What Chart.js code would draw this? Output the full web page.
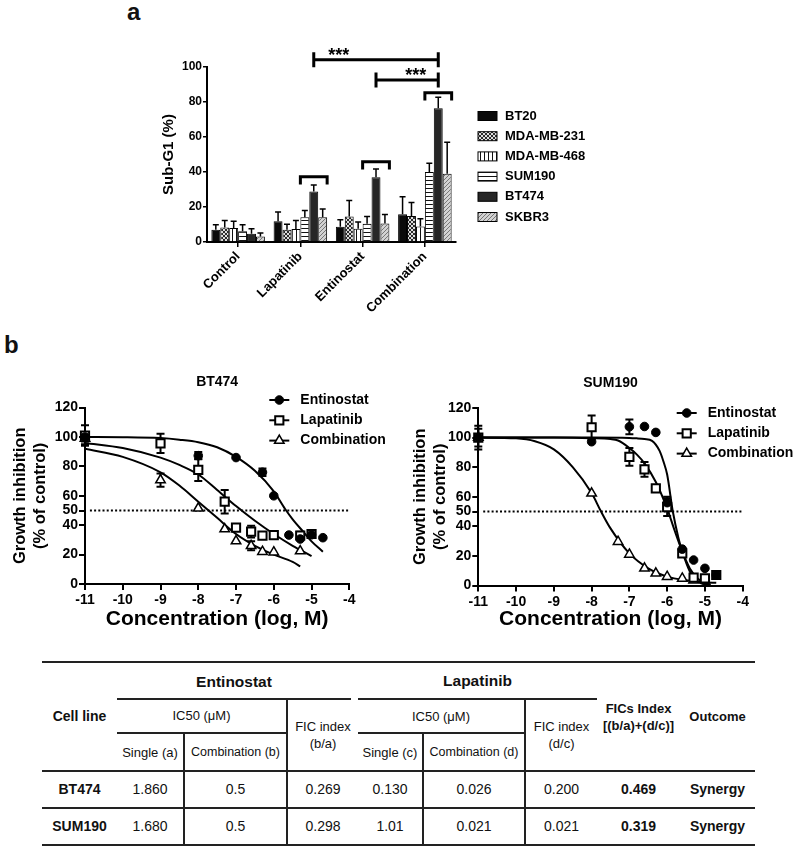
<!DOCTYPE html>
<html lang="en">
<head>
<meta charset="UTF-8">
<title>Sub-G1 and growth inhibition</title>
<script src="https://cdn.jsdelivr.net/npm/chart.js@4"></script>
<style>
  body { margin: 0; background: #fff; font-family: "Liberation Sans", Arial, sans-serif; color: #111; }
  #page { position: relative; width: 800px; height: 852px; overflow: hidden; }
  canvas { position: absolute; }
  .plabel { position: absolute; font-weight: bold; font-size: 24px; line-height: 24px; }
  #tbl { position: absolute; left: 42px; top: 661px; width: 713px; border-collapse: collapse; table-layout: fixed; font-size: 13px; }
  #tbl td { padding: 0; text-align: center; vertical-align: middle; line-height: 17px; white-space: nowrap; }
  #tbl tr.top td { border-top: 2px solid #222; }
  #tbl td.grp { position: relative; padding-right: 7px; }
  #tbl td.grp::after { content: ""; position: absolute; left: 0; right: 7px; bottom: -1px; border-bottom: 2px solid #222; }
  #tbl td.ul { border-bottom: 2px solid #222; }
  #tbl td.vl { border-left: 2px solid #222; }
  #tbl tr.data td { border-top: 2px solid #222; font-size: 14px; }
  #tbl tr.last td { border-bottom: 2px solid #222; }
  #tbl .b { font-weight: bold; }
  #tbl .h { font-size: 15.5px; }
  #tbl .s { font-size: 12.5px; }
</style>
</head>
<body>
<div id="page">
  <div class="plabel" style="left:127px;top:0">a</div>
  <div class="plabel" style="left:4px;top:333px">b</div>
  <canvas id="barChart" width="800" height="330" style="left:0;top:0"></canvas>
  <canvas id="bt474Chart" width="400" height="300" style="left:0;top:340px"></canvas>
  <canvas id="sum190Chart" width="400" height="300" style="left:400px;top:340px"></canvas>
  <table id="tbl"></table>
</div>
<script>
// ---- panel a: Sub-G1 bars
const treatments = ["Control", "Lapatinib", "Entinostat", "Combination"];
const cellLines = ["BT20", "MDA-MB-231", "MDA-MB-468", "SUM190", "BT474", "SKBR3"];
const bt20 = [7, 11.8, 8.7, 15.9];
const mda231 = [8.3, 7, 14.6, 14.8];
const mda468 = [8, 7.4, 7.6, 8.9];
const sum190 = [6.1, 14.2, 10.4, 40];
const bt474 = [4.7, 28.8, 37, 76.4];
const skbr3 = [3.2, 14.2, 10.6, 39];
const bt20Err = [2.9, 5.3, 4, 9.9];
const mda231Err = [4, 3.2, 9.1, 7.8];
const mda468Err = [3.8, 4.9, 3.8, 4.4];
const sum190Err = [3.8, 3.8, 4.2, 5];
const bt474Err = [2.9, 3.8, 4.7, 6.3];
const skbr3Err = [1.9, 4.6, 5.1, 18];
// brackets over SUM190..SKBR3 in each group (top value), significance lines between BT474 bars
const bracketTop = [null, 37.3, 45.9, 85.3];
const sigFrom = [1, 2];
const sigTo = [3, 3];
const sigLevel = [104.2, 92.6];
const sigText = ["***", "***"];

// ---- panel b: dose response (log M vs % of control)
const concTicks = [-11, -10, -9, -8, -7, -6, -5, -4];
const growthTicks = [0, 20, 40, 50, 60, 80, 100, 120];
const drugs = ["Entinostat", "Lapatinib", "Combination"];

const bt474EntX = [-11, -8, -7, -6.3, -6, -5.6, -5.3, -5, -4.7];
const bt474EntY = [100, 87.3, 86, 76, 60, 33.3, 30.6, 33.5, 31.5];
const bt474EntErr = [3, 2.5, 0, 2.5, 0, 0, 0, 0, 0];
const bt474LapX = [-11, -9, -8, -7.3, -7, -6.6, -6.3, -6, -5.3, -5];
const bt474LapY = [101, 95.7, 77.6, 56, 38.3, 35.6, 32.9, 33.3, 33, 34];
const bt474LapErr = [7, 6.5, 7.5, 8, 2, 4, 0, 0, 2.5, 2];
const bt474CombX = [-11, -9, -8, -7.3, -7, -6.6, -6.3, -6, -5.3];
const bt474CombY = [99, 70.7, 51.5, 37.4, 29.2, 26, 22, 21.6, 22.4];
const bt474CombErr = [4, 4.5, 0, 0, 0, 3, 0, 0, 0];
const bt474EntFitX = [-11, -10, -9, -8.5, -8, -7.5, -7, -6.5, -6, -5.7, -5.5, -5.2, -5, -4.7];
const bt474EntFitY = [100, 99.9, 99.3, 98.2, 96.5, 93, 86.5, 77, 63, 51, 44, 35, 29, 22];
const bt474LapFitX = [-11, -10, -9, -8.5, -8, -7.5, -7, -6.5, -6, -5.5, -5];
const bt474LapFitY = [96, 92.5, 86, 81, 74.5, 64, 53, 43, 34, 26, 19];
const bt474CombFitX = [-11, -10, -9, -8.5, -8, -7.5, -7, -6.5, -6, -5.5, -5.3];
const bt474CombFitY = [92, 86.5, 76, 67, 56, 45, 34, 26, 20, 15, 12];

const sum190EntX = [-11, -8, -7, -6.6, -6.3, -6, -5.6, -5.3, -5, -4.7];
const sum190EntY = [100, 97.2, 107.3, 107.5, 103.5, 56, 24.6, 17.2, 11.6, 7.1];
const sum190EntErr = [6, 0, 5, 0, 0, 4, 0, 0, 0, 0];
const sum190LapX = [-11, -8, -7, -6.6, -6.3, -6, -5.6, -5.3, -5, -4.7];
const sum190LapY = [100, 107, 87, 78.5, 65.6, 53, 21.7, 5.3, 4.8, 7.1];
const sum190LapErr = [8, 8, 6, 5, 2, 6, 2, 0, 0, 2];
const sum190CombX = [-11, -8, -7.3, -7, -6.6, -6.3, -6, -5.6, -5.3];
const sum190CombY = [100, 62.3, 29.6, 21, 11.6, 8.2, 6, 4.8, 3.5];
const sum190CombErr = [0, 0, 0, 0, 0, 0, 0, 0, 0];
const sum190EntFitX = [-11, -9, -8, -7, -6.8, -6.6, -6.4, -6.2, -6.1, -6, -5.85, -5.7, -5.6, -5.4, -5.2, -5, -4.85];
const sum190EntFitY = [100, 100, 100, 99.8, 99.5, 99, 97.8, 91, 84, 75, 50, 32, 23, 9.5, 2.8, 0.7, 0.3];
const sum190LapFitX = [-11, -9, -8, -7.5, -7.3, -7, -6.8, -6.6, -6.3, -6, -5.8, -5.6, -5.4, -5.2, -5, -4.85];
const sum190LapFitY = [100, 100, 99.6, 99, 98, 93, 88.5, 82.6, 70, 52, 37, 23, 11.5, 5, 1.5, 0.8];
const sum190CombFitX = [-11, -10, -9.5, -9, -8.5, -8, -7.75, -7.5, -7, -6.5, -6, -5.5, -5, -4.7];
const sum190CombFitY = [100, 99.5, 97.5, 92, 80, 62.5, 50, 38.6, 21.7, 11.6, 6, 3.5, 2.2, 1.8];
const halfLine = 50;

// ---- table
const tblCells = ["BT474", "SUM190"];
const singleA = ["1.860", "1.680"];
const combB = ["0.5", "0.5"];
const ficBA = ["0.269", "0.298"];
const singleC = ["0.130", "1.01"];
const combD = ["0.026", "0.021"];
const ficDC = ["0.200", "0.021"];
const ficsIndex = ["0.469", "0.319"];
const outcome = ["Synergy", "Synergy"];

const FONT = '"Liberation Sans", Arial, sans-serif';
Chart.defaults.font.family = FONT;
Chart.defaults.color = "#000";

function hatch(kind) {
  const c = document.createElement("canvas");
  c.width = 4; c.height = 4;
  const g = c.getContext("2d");
  g.fillStyle = kind === "diag" ? "#d2d2d2" : (kind === "cross" ? "#dcdcdc" : "#fff");
  g.fillRect(0, 0, 4, 4);
  g.fillStyle = kind === "diag" ? "#777" : (kind === "cross" ? "#2a2a2a" : "#111");
  if (kind === "vert") g.fillRect(0, 0, 1, 4);
  if (kind === "horiz") g.fillRect(0, 0, 4, 1);
  if (kind === "diag") for (let i = 0; i < 4; i++) g.fillRect(i, 3 - i, 1, 1);
  if (kind === "cross") for (let i = 0; i < 4; i++) { g.fillRect(i, i, 1, 1); g.fillRect(i, 3 - i, 1, 1); }
  return g.createPattern(c, "repeat");
}

const barSeries = [bt20, mda231, mda468, sum190, bt474, skbr3];
const barErrors = [bt20Err, mda231Err, mda468Err, sum190Err, bt474Err, skbr3Err];
const barFills = ["#0a0a0a", hatch("cross"), hatch("vert"), hatch("horiz"), "#262626", hatch("diag")];

const barDecor = {
  id: "barDecor",
  afterDatasetsDraw(chart) {
    const { ctx, chartArea, scales: { y } } = chart;
    ctx.save();
    ctx.strokeStyle = "#000";
    ctx.lineWidth = 1.5;
    barSeries.forEach((vals, i) => {
      chart.getDatasetMeta(i).data.forEach((bar, j) => {
        const yTop = y.getPixelForValue(vals[j] + barErrors[i][j]);
        ctx.beginPath();
        ctx.moveTo(bar.x, bar.y);
        ctx.lineTo(bar.x, yTop);
        ctx.moveTo(bar.x - 3, yTop);
        ctx.lineTo(bar.x + 3, yTop);
        ctx.stroke();
      });
    });

    ctx.lineWidth = 3;
    bracketTop.forEach((v, j) => {
      if (v == null) return;
      const a = chart.getDatasetMeta(3).data[j];
      const b = chart.getDatasetMeta(5).data[j];
      const x0 = a.x - a.width / 2, x1 = b.x + b.width / 2;
      const yT = y.getPixelForValue(v), yB = y.getPixelForValue(v - 4.5);
      ctx.beginPath();
      ctx.moveTo(x0, yB); ctx.lineTo(x0, yT); ctx.lineTo(x1, yT); ctx.lineTo(x1, yB);
      ctx.stroke();
    });

    const sigPos = [0.2, 0.64];
    sigLevel.forEach((v, k) => {
      const a = chart.getDatasetMeta(4).data[sigFrom[k]];
      const b = chart.getDatasetMeta(4).data[sigTo[k]];
      const yl = y.getPixelForValue(v);
      const yu = y.getPixelForValue(v + 4.3), yd = y.getPixelForValue(v - 4.3);
      ctx.beginPath();
      ctx.moveTo(a.x, yu); ctx.lineTo(a.x, yd);
      ctx.moveTo(a.x, yl); ctx.lineTo(b.x, yl);
      ctx.moveTo(b.x, yu); ctx.lineTo(b.x, yd);
      ctx.stroke();
      ctx.fillStyle = "#000";
      ctx.font = "bold 18px " + FONT;
      ctx.textAlign = "center";
      ctx.textBaseline = "alphabetic";
      ctx.fillText(sigText[k], a.x + (b.x - a.x) * sigPos[k], yl + 1);
    });

    // legend
    ctx.lineWidth = 1;
    ctx.font = "bold 13px " + FONT;
    ctx.textAlign = "left";
    ctx.textBaseline = "middle";
    cellLines.forEach((name, i) => {
      const lx = chartArea.right + 22, ly = chartArea.top + 49 + i * 20.2;
      ctx.fillStyle = barFills[i];
      ctx.fillRect(lx, ly - 4.5, 19, 9);
      ctx.strokeRect(lx, ly - 4.5, 19, 9);
      ctx.fillStyle = "#000";
      ctx.fillText(name, lx + 27, ly);
    });
    ctx.restore();
  }
};

new Chart(document.getElementById("barChart"), {
  type: "bar",
  data: {
    labels: treatments,
    datasets: cellLines.map((name, i) => ({
      label: name,
      data: barSeries[i],
      backgroundColor: barFills[i],
      borderColor: "#000",
      borderWidth: 1
    }))
  },
  options: {
    responsive: false,
    animation: false,
    datasets: { bar: { categoryPercentage: 0.86, barPercentage: 1 } },
    layout: { padding: { left: 140, right: 344, top: 67, bottom: 0 } },
    plugins: { legend: { display: false }, tooltip: { enabled: false } },
    scales: {
      x: {
        grid: { offset: false, drawOnChartArea: false, color: "#000", lineWidth: 1.5, tickLength: 5 },
        border: { color: "#000", width: 2 },
        ticks: { font: { size: 13, weight: "bold" }, minRotation: 45, maxRotation: 45, padding: 2 },
        afterFit(s) { s.height = 88; }
      },
      y: {
        min: 0, max: 100,
        ticks: { stepSize: 20, font: { size: 12, weight: "bold" }, padding: 1 },
        grid: { drawOnChartArea: false, color: "#000", lineWidth: 1.5, tickLength: 4 },
        border: { color: "#000", width: 2 },
        title: { display: true, text: "Sub-G1 (%)", font: { size: 15, weight: "bold" }, padding: { top: 20, bottom: 0 } },
        afterFit(s) { s.width = 67; }
      }
    }
  },
  plugins: [barDecor]
});

// ---- panel b helpers
const markers = [
  { style: "circle", r: 4.3, bg: "#000", bw: 1 },
  { style: "rect", r: 5.8, bg: "#fff", bw: 2 },
  { style: "triangle", r: 5.5, bg: "#fff", bw: 1.5 }
];

function drawMarker(ctx, m, x, y) {
  ctx.beginPath();
  if (m.style === "circle") ctx.arc(x, y, m.r, 0, Math.PI * 2);
  else if (m.style === "rect") { const s = m.r * Math.SQRT1_2; ctx.rect(x - s, y - s, 2 * s, 2 * s); }
  else {
    ctx.moveTo(x, y - m.r);
    ctx.lineTo(x + m.r * 0.866, y + m.r * 0.5);
    ctx.lineTo(x - m.r * 0.866, y + m.r * 0.5);
    ctx.closePath();
  }
  ctx.fillStyle = m.bg;
  ctx.fill();
  ctx.lineWidth = m.bw;
  ctx.strokeStyle = "#000";
  ctx.stroke();
}

function toPts(xs, ys) { return xs.map((x, i) => ({ x, y: ys[i] })); }

function curveChart(id, title, pts, errs, fits, lay) {
  const decor = {
    id: "curveDecor",
    beforeDatasetsDraw(chart) {
      const { ctx, scales: { y } } = chart;
      ctx.save();
      ctx.strokeStyle = "#000";
      ctx.lineWidth = 2;
      errs.forEach((err, i) => {
        chart.getDatasetMeta(i).data.forEach((p, j) => {
          if (!err[j]) return;
          const v = pts[i][j].y;
          const y1 = y.getPixelForValue(v + err[j]), y2 = y.getPixelForValue(v - err[j]);
          ctx.beginPath();
          ctx.moveTo(p.x, y1); ctx.lineTo(p.x, y2);
          ctx.moveTo(p.x - 4, y1); ctx.lineTo(p.x + 4, y1);
          ctx.moveTo(p.x - 4, y2); ctx.lineTo(p.x + 4, y2);
          ctx.stroke();
        });
      });
      ctx.restore();
    },
    afterDraw(chart) {
      const { ctx, chartArea } = chart;
      ctx.save();
      ctx.fillStyle = "#000";
      ctx.font = "bold 14px " + FONT;
      ctx.textAlign = "center";
      ctx.textBaseline = "middle";
      ctx.fillText(title, (chartArea.left + chartArea.right) / 2, chartArea.top - 25);
      drugs.forEach((name, i) => {
        const x = chartArea.right + lay.legX, y = chartArea.top + lay.legY + i * 20.3;
        ctx.strokeStyle = "#000";
        ctx.lineWidth = 2;
        ctx.beginPath(); ctx.moveTo(x - 10, y); ctx.lineTo(x + 10, y); ctx.stroke();
        drawMarker(ctx, markers[i], x, y);
        ctx.fillStyle = "#000";
        ctx.font = "bold 14px " + FONT;
        ctx.textAlign = "left";
        ctx.fillText(name, x + 21, y);
      });
      ctx.restore();
    }
  };

  const datasets = [];
  pts.forEach((p, i) => datasets.push({
    data: p,
    showLine: false,
    pointStyle: markers[i].style,
    pointRadius: markers[i].r,
    pointBackgroundColor: markers[i].bg,
    pointBorderColor: "#000",
    pointBorderWidth: markers[i].bw,
    clip: false
  }));
  fits.forEach(f => datasets.push({
    data: f,
    showLine: true,
    pointRadius: 0,
    borderColor: "#000",
    borderWidth: 2,
    cubicInterpolationMode: "monotone"
  }));
  datasets.push({
    data: [{ x: -10.87, y: halfLine }, { x: -4, y: halfLine }],
    showLine: true,
    pointRadius: 0,
    borderColor: "#000",
    borderWidth: 2,
    borderDash: [2, 2.2]
  });

  new Chart(document.getElementById(id), {
    type: "scatter",
    data: { datasets },
    options: {
      responsive: false,
      animation: false,
      layout: { padding: { left: 0, right: lay.right, top: lay.top, bottom: 0 } },
      plugins: { legend: { display: false }, tooltip: { enabled: false } },
      scales: {
        x: {
          type: "linear", min: -11, max: -4,
          afterBuildTicks(s) { s.ticks = concTicks.map(v => ({ value: v })); },
          ticks: { font: { size: 14, weight: "bold" }, padding: 2 },
          grid: { drawOnChartArea: false, color: "#000", lineWidth: 2, tickLength: 6 },
          border: { color: "#000", width: 2 },
          title: { display: true, text: "Concentration (log, M)", font: { size: 21, weight: "bold" }, padding: { top: 0, bottom: 8 } },
          afterFit(s) { s.height = lay.xh; }
        },
        y: {
          min: 0, max: 120,
          afterBuildTicks(s) { s.ticks = growthTicks.map(v => ({ value: v })); },
          ticks: { font: { size: 14, weight: "bold" }, padding: 1 },
          grid: { drawOnChartArea: false, color: "#000", lineWidth: 2, tickLength: 6 },
          border: { color: "#000", width: 2 },
          title: { display: true, text: ["Growth inhibition", "(% of control)"], font: { size: 16.5, weight: "bold", lineHeight: 1.22 }, padding: { top: 10, bottom: 0 } },
          afterFit(s) { s.width = lay.yw; }
        }
      }
    },
    plugins: [decor]
  });
}

curveChart("bt474Chart", "BT474",
  [toPts(bt474EntX, bt474EntY), toPts(bt474LapX, bt474LapY), toPts(bt474CombX, bt474CombY)],
  [bt474EntErr, bt474LapErr, bt474CombErr],
  [toPts(bt474EntFitX, bt474EntFitY), toPts(bt474LapFitX, bt474LapFitY), toPts(bt474CombFitX, bt474CombFitY)],
  { yw: 85, right: 50.7, top: 67.6, xh: 56, legX: -70, legY: -7.6 });

curveChart("sum190Chart", "SUM190",
  [toPts(sum190EntX, sum190EntY), toPts(sum190LapX, sum190LapY), toPts(sum190CombX, sum190CombY)],
  [sum190EntErr, sum190LapErr, sum190CombErr],
  [toPts(sum190EntFitX, sum190EntFitY), toPts(sum190LapFitX, sum190LapFitY), toPts(sum190CombFitX, sum190CombFitY)],
  { yw: 78.3, right: 57.3, top: 68, xh: 54.5, legX: -56, legY: 5 });

// ---- table
const colWidths = [75, 67, 103, 71, 65, 102, 72, 83, 75];
let html = "<colgroup>" + colWidths.map(w => `<col style="width:${w}px">`).join("") + "</colgroup>";
html += `<tr class="top" style="height:37px">
  <td rowspan="3" class="b" style="font-size:14px">Cell line</td>
  <td colspan="3" class="grp b h">Entinostat</td>
  <td colspan="3" class="ul b h">Lapatinib</td>
  <td rowspan="3" class="b">FICs Index<br>[(b/a)+(d/c)]</td>
  <td rowspan="3" class="b">Outcome</td></tr>`;
html += `<tr style="height:34px">
  <td colspan="2" class="ul">IC50 (μM)</td>
  <td rowspan="2" class="vl">FIC index<br>(b/a)</td>
  <td colspan="2" class="ul">IC50 (μM)</td>
  <td rowspan="2" class="vl">FIC index<br>(d/c)</td></tr>`;
html += `<tr style="height:38px">
  <td>Single (a)</td><td class="vl s">Combination (b)</td>
  <td>Single (c)</td><td class="vl s">Combination (d)</td></tr>`;
tblCells.forEach((name, i) => {
  const cls = i === tblCells.length - 1 ? "data last" : "data";
  html += `<tr class="${cls}" style="height:37px">
    <td class="b">${name}</td><td>${singleA[i]}</td><td class="vl">${combB[i]}</td><td class="vl">${ficBA[i]}</td>
    <td>${singleC[i]}</td><td class="vl">${combD[i]}</td><td class="vl">${ficDC[i]}</td>
    <td class="b">${ficsIndex[i]}</td><td class="b">${outcome[i]}</td></tr>`;
});
document.getElementById("tbl").innerHTML = html;
</script>
</body>
</html>
